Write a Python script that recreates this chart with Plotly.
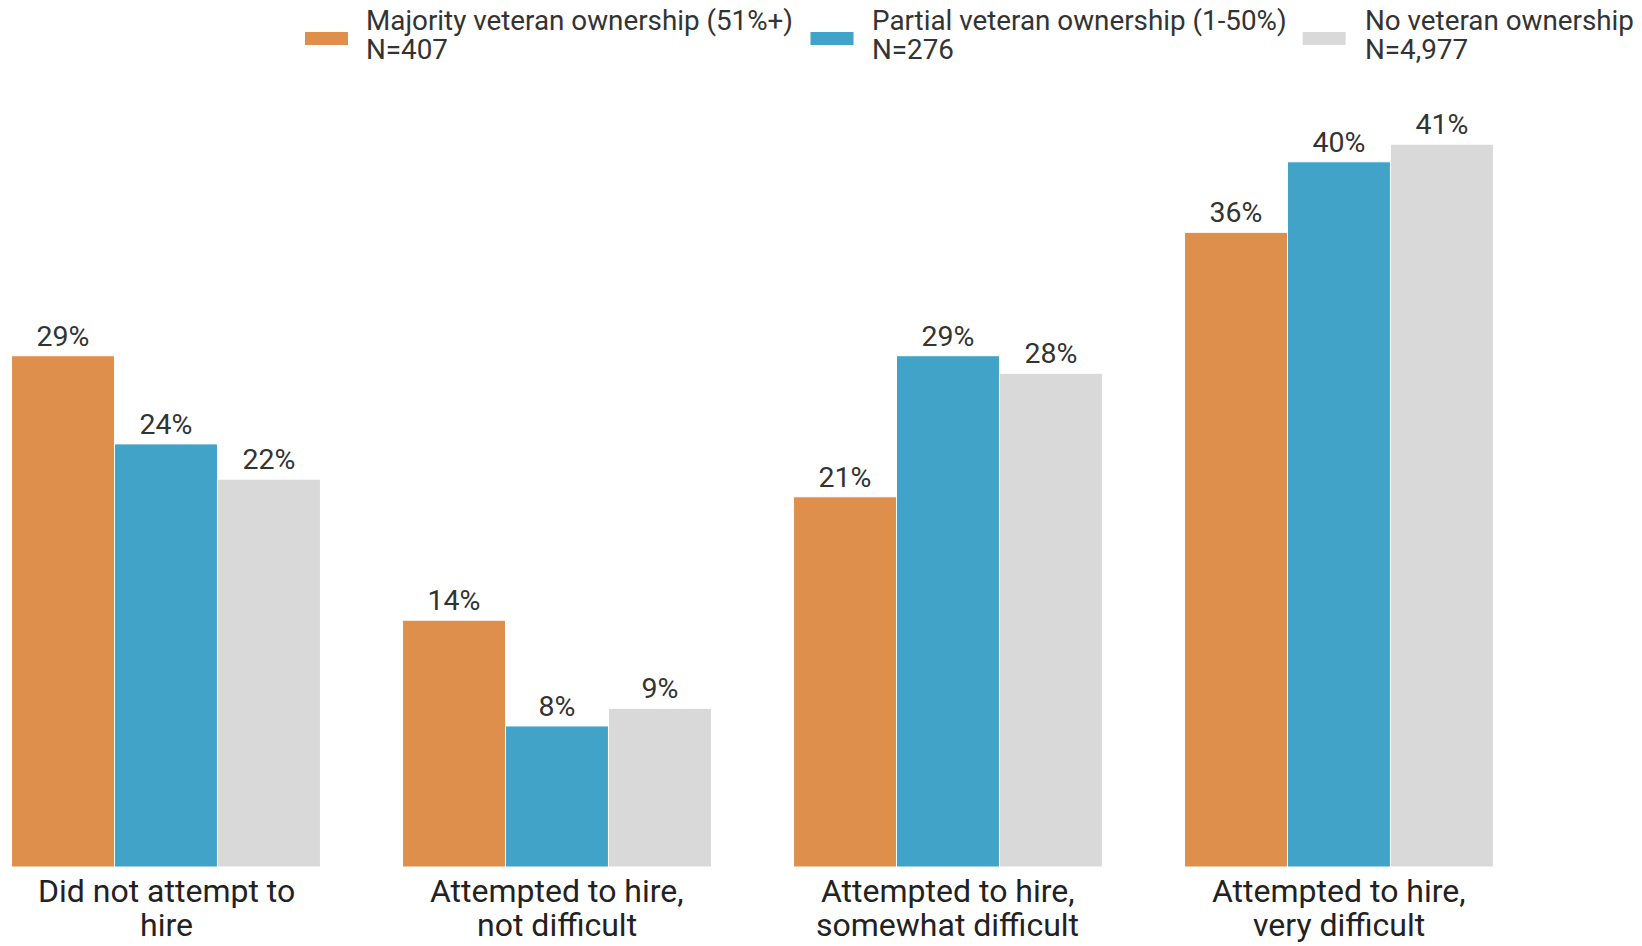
import plotly.graph_objects as go

categories = ["Did not attempt to hire", "Attempted to hire, not difficult",
              "Attempted to hire, somewhat difficult", "Attempted to hire, very difficult"]
cat_line1 = ["Did not attempt to", "Attempted to hire,", "Attempted to hire,", "Attempted to hire,"]
cat_line2 = ["hire", "not difficult", "somewhat difficult", "very difficult"]
series_names = ["Majority veteran ownership (51%+)",
                "Partial veteran ownership (1-50%)",
                "No veteran ownership"]
series_n = ["N=407", "N=276", "N=4,977"]
majority = [29, 14, 21, 36]
partial = [24, 8, 29, 40]
none_vet = [22, 9, 28, 41]
colors = ["#DE8F4C", "#42A3C8", "#D9D9D9"]

# page has an 8px body margin, so the figure is 8px smaller than the window
W, H = 1634, 938
ML, MR, MT, MB = 0, 0, 92, 79
PH = H - MT - MB
PX_PER_PCT = 17.63

fig = go.Figure()
for name, vals, col in zip(series_names, [majority, partial, none_vet], colors):
    fig.add_trace(go.Bar(
        x=categories, y=vals, name=name,
        marker=dict(color=col, line=dict(color="white", width=1)),
        text=[f"{v}%" for v in vals], textposition="outside",
        textfont=dict(size=28.5, color="#333333", family="Roboto"),
        constraintext="none", cliponaxis=False, showlegend=False,
    ))

def py(pix):
    return (H - MB - pix) / PH

# custom legend (wide swatches, two-line labels)
leg_x = [(297, 340, 355.5), (802.5, 845.5, 862), (1294.7, 1337.6, 1354.5)]
for (x0, x1, tx), col, name, n in zip(leg_x, colors, series_names, series_n):
    fig.add_shape(type="rect", xref="paper", yref="paper",
                  x0=x0 / W, x1=x1 / W, y0=py(37), y1=py(24),
                  fillcolor=col, line=dict(width=0))
    for txt, yy in ((name, 12), (n, 41)):
        fig.add_annotation(xref="paper", yref="paper", x=tx / W, y=py(yy),
                           xanchor="left", yanchor="middle", align="left",
                           text=txt, showarrow=False,
                           font=dict(size=27.8, color="#333333", family="Roboto"))

# category labels (two lines, tight spacing)
for cat, l1, l2 in zip(categories, cat_line1, cat_line2):
    for txt, yy in ((l1, 883), (l2, 916.5)):
        fig.add_annotation(xref="x", yref="paper", x=cat, y=py(yy),
                           xanchor="center", yanchor="middle",
                           text=txt, showarrow=False,
                           font=dict(size=32, color="#222222", family="Roboto"))

fig.update_layout(
    width=W, height=H,
    margin=dict(l=ML, r=MR, t=MT, b=MB),
    paper_bgcolor="white", plot_bgcolor="white",
    barmode="group", bargap=0.21, bargroupgap=0,
    font=dict(family="Roboto", color="#222222"),
    xaxis=dict(range=[-0.4041, 3.775], showline=False, showgrid=False,
               ticks="", showticklabels=False),
    yaxis=dict(range=[0, PH / PX_PER_PCT], visible=False, showgrid=False),
)

fig.write_html("out.html")
